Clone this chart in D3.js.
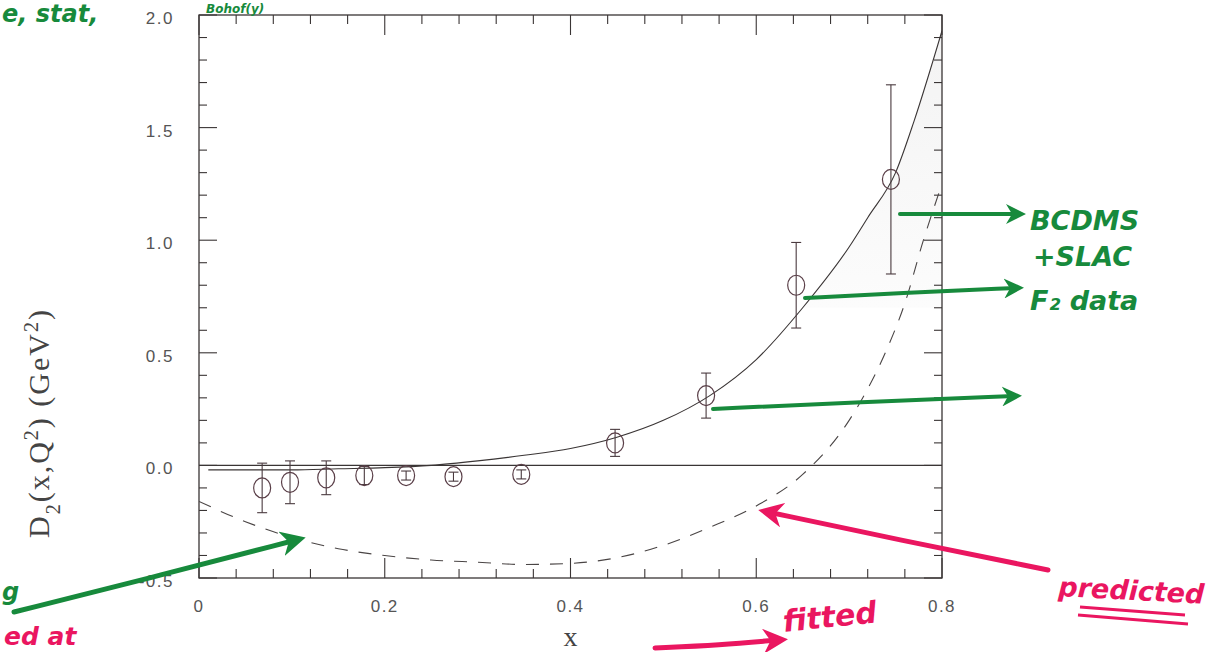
<!DOCTYPE html>
<html>
<head>
<meta charset="utf-8">
<script src="https://cdn.jsdelivr.net/npm/d3@7"></script>
<style>
  body { margin: 0; background: #fff; }
  svg { display: block; }
  .tick-label { font-family: "Liberation Sans", Arial, sans-serif; font-size: 17px; fill: #555; letter-spacing: 1.5px; }
  .hand { font-family: "DejaVu Sans", sans-serif; font-style: italic; font-weight: bold; }
</style>
</head>
<body>
<div id="container"></div>
<script>
// data points (x, D2, error)
var dataX   = [0.068, 0.098, 0.137, 0.178, 0.223, 0.274, 0.347, 0.448, 0.546, 0.643, 0.745];
var dataY   = [-0.10, -0.075, -0.055, -0.045, -0.045, -0.05, -0.04, 0.10, 0.31, 0.80, 1.27];
var dataErr = [0.11, 0.095, 0.075, 0.04, 0.02, 0.02, 0.02, 0.06, 0.10, 0.19, 0.42];

// fitted curve (solid)
var fitX = [0.01, 0.05, 0.10, 0.15, 0.20, 0.25, 0.30, 0.35, 0.40, 0.45, 0.50, 0.55, 0.60, 0.65, 0.70, 0.72, 0.75, 0.77, 0.80];
var fitY = [-0.02, -0.02, -0.02, -0.015, -0.01, 0.0, 0.02, 0.045, 0.075, 0.125, 0.20, 0.31, 0.47, 0.70, 0.97, 1.10, 1.30, 1.53, 1.93];

// predicted curve (dashed)
var predX = [0.0, 0.05, 0.10, 0.15, 0.20, 0.25, 0.30, 0.35, 0.40, 0.45, 0.50, 0.55, 0.60, 0.65, 0.70, 0.72, 0.74, 0.76, 0.78, 0.80];
var predY = [-0.16, -0.25, -0.32, -0.37, -0.40, -0.42, -0.43, -0.44, -0.435, -0.41, -0.355, -0.275, -0.18, -0.04, 0.2, 0.34, 0.51, 0.72, 1.0, 1.25];

var xTicks = [0, 0.2, 0.4, 0.6, 0.8];
var xTickLabels = ["0", "0.2", "0.4", "0.6", "0.8"];
var yTicks = [-0.5, 0.0, 0.5, 1.0, 1.5, 2.0];
var yTickLabels = ["-0.5", "0.0", "0.5", "1.0", "1.5", "2.0"];

var W = 1219, H = 652;
var margin = {top: 15, right: 277, bottom: 74, left: 199};

var svg = d3.select("#container").append("svg")
    .attr("width", W)
    .attr("height", H)
    .style("background", "#fff");

var x = d3.scaleLinear().domain([0, 0.8]).range([margin.left, W - margin.right]);
var y = d3.scaleLinear().domain([-0.5, 2.0]).range([H - margin.bottom, margin.top]);

var ink = "#3a3535";

// very faint shading right of the fitted curve at large x
var grad = svg.append("defs").append("linearGradient").attr("id", "shade")
    .attr("x1", 0).attr("x2", 0).attr("y1", 0).attr("y2", 1);
grad.append("stop").attr("offset", "0%").attr("stop-color", "#f3f3f3");
grad.append("stop").attr("offset", "100%").attr("stop-color", "#fcfcfc");
var shadePts = fitX.map(function(v, i) { return [v, fitY[i]]; })
    .filter(function(p) { return p[0] >= 0.65; });
shadePts.push([0.8, 0.7]);
svg.append("path")
    .attr("d", d3.line().x(function(d) { return x(d[0]); }).y(function(d) { return y(d[1]); })
        .curve(d3.curveLinearClosed)(shadePts))
    .attr("fill", "url(#shade)");

// frame
svg.append("rect")
    .attr("x", x(0)).attr("y", y(2.0))
    .attr("width", x(0.8) - x(0)).attr("height", y(-0.5) - y(2.0))
    .attr("fill", "none").attr("stroke", ink).attr("stroke-width", 1.3);

// ticks on all four sides
var xMinor = d3.range(0, 0.8001, 0.04);
var yMinor = d3.range(-0.5, 2.0001, 0.1);
function isMajorX(v) { return Math.abs(v * 5 - Math.round(v * 5)) < 1e-6; }
function isMajorY(v) { return Math.abs(v * 2 - Math.round(v * 2)) < 1e-6; }

var tickG = svg.append("g").attr("stroke", ink).attr("stroke-width", 1.1);
xMinor.forEach(function(v) {
    var len = isMajorX(v) ? 20 : 9;
    tickG.append("line").attr("x1", x(v)).attr("x2", x(v)).attr("y1", y(-0.5)).attr("y2", y(-0.5) - len);
    tickG.append("line").attr("x1", x(v)).attr("x2", x(v)).attr("y1", y(2.0)).attr("y2", y(2.0) + len);
});
yMinor.forEach(function(v) {
    var len = isMajorY(v) ? 18 : 8;
    tickG.append("line").attr("x1", x(0)).attr("x2", x(0) + len).attr("y1", y(v)).attr("y2", y(v));
    tickG.append("line").attr("x1", x(0.8)).attr("x2", x(0.8) - len).attr("y1", y(v)).attr("y2", y(v));
});

// tick labels
svg.append("g").selectAll("text").data(xTicks).enter().append("text")
    .attr("class", "tick-label")
    .attr("x", function(d) { return x(d); })
    .attr("y", y(-0.5) + 34)
    .attr("text-anchor", "middle")
    .text(function(d, i) { return xTickLabels[i]; });
svg.append("g").selectAll("text").data(yTicks).enter().append("text")
    .attr("class", "tick-label")
    .attr("x", x(0) - 25)
    .attr("y", function(d) { return y(d) + 9; })
    .attr("text-anchor", "end")
    .text(function(d, i) { return yTickLabels[i]; });

// axis titles
svg.append("text")
    .attr("x", x(0.4)).attr("y", 646)
    .attr("text-anchor", "middle")
    .style("font-family", "'Liberation Serif', 'DejaVu Serif', serif")
    .style("font-size", "28px").style("fill", "#444")
    .text("x");
var yl = svg.append("text")
    .attr("transform", "translate(49," + 423 + ") rotate(-90)")
    .attr("text-anchor", "middle")
    .style("font-family", "'Liberation Serif', 'DejaVu Serif', serif")
    .style("font-size", "30px").style("fill", "#444")
    .style("letter-spacing", "2px");
yl.append("tspan").text("D");
yl.append("tspan").attr("baseline-shift", "sub").style("font-size", "20px").text("2");
yl.append("tspan").text("(x,Q");
yl.append("tspan").attr("baseline-shift", "super").style("font-size", "20px").text("2");
yl.append("tspan").text(")  (GeV");
yl.append("tspan").attr("baseline-shift", "super").style("font-size", "20px").text("2");
yl.append("tspan").text(")");

// zero line
svg.append("line")
    .attr("x1", x(0)).attr("x2", x(0.8)).attr("y1", y(0)).attr("y2", y(0))
    .attr("stroke", ink).attr("stroke-width", 1.1);

svg.append("clipPath").attr("id", "plotclip").append("rect")
    .attr("x", x(0)).attr("y", y(2.0)).attr("width", x(0.8) - x(0)).attr("height", y(-0.5) - y(2.0));

var line = d3.line()
    .x(function(d) { return x(d[0]); })
    .y(function(d) { return y(d[1]); })
    .curve(d3.curveMonotoneX);

svg.append("path")
    .attr("clip-path", "url(#plotclip)")
    .attr("d", line(fitX.map(function(v, i) { return [v, fitY[i]]; })))
    .attr("fill", "none").attr("stroke", ink).attr("stroke-width", 1.1);

svg.append("path")
    .attr("clip-path", "url(#plotclip)")
    .attr("d", line(predX.map(function(v, i) { return [v, predY[i]]; })))
    .attr("fill", "none").attr("stroke", "#4a4545").attr("stroke-width", 1.1)
    .attr("stroke-dasharray", "13,11");

// data points with error bars
var pts = svg.append("g").selectAll("g").data(dataX).enter().append("g");
pts.append("line")
    .attr("x1", function(d) { return x(d); }).attr("x2", function(d) { return x(d); })
    .attr("y1", function(d, i) { return y(dataY[i] + dataErr[i]); })
    .attr("y2", function(d, i) { return y(dataY[i] - dataErr[i]); })
    .attr("stroke", "#4a3a3f").attr("stroke-width", 1.1);
[1, -1].forEach(function(s) {
    pts.append("line")
        .attr("x1", function(d) { return x(d) - 5; }).attr("x2", function(d) { return x(d) + 5; })
        .attr("y1", function(d, i) { return y(dataY[i] + s * dataErr[i]); })
        .attr("y2", function(d, i) { return y(dataY[i] + s * dataErr[i]); })
        .attr("stroke", "#4a3a3f").attr("stroke-width", 1.1);
});
pts.append("ellipse")
    .attr("cx", function(d) { return x(d); })
    .attr("cy", function(d, i) { return y(dataY[i]); })
    .attr("rx", 8.5).attr("ry", 10)
    .attr("fill", "none").attr("stroke", "#5a3f48").attr("stroke-width", 1.2);

// handwritten annotations
var green = "#178a3c", red = "#ea1660";
var defs = svg.append("defs");
function head(id, col) {
    defs.append("marker").attr("id", id)
        .attr("viewBox", "0 0 10 10").attr("refX", 6).attr("refY", 5)
        .attr("markerWidth", 5).attr("markerHeight", 5).attr("orient", "auto")
        .append("path").attr("d", "M0,0 L10,5 L0,10 L3,5 z").attr("fill", col);
}
head("gh", green);
head("rh", red);

function arrow(pts, col, mk, w) {
    svg.append("path")
        .attr("d", d3.line().curve(d3.curveBasis)(pts))
        .attr("fill", "none").attr("stroke", col).attr("stroke-width", w || 4)
        .attr("stroke-linecap", "round")
        .attr("marker-end", "url(#" + mk + ")");
}
arrow([[900, 214], [960, 214], [1018, 214]], green, "gh");
arrow([[805, 298], [900, 293], [1016, 288]], green, "gh");
arrow([[713, 409], [860, 402], [1014, 396]], green, "gh");
arrow([[14, 612], [150, 578], [296, 540]], green, "gh", 5);
arrow([[1048, 570], [900, 540], [768, 512]], red, "rh", 5);
arrow([[655, 648], [720, 645], [778, 640]], red, "rh", 5);

function hand(txt, px, py, col, size, rot) {
    return svg.append("text")
        .attr("class", "hand")
        .attr("transform", "translate(" + px + "," + py + ") rotate(" + (rot || 0) + ")")
        .style("font-size", size + "px").style("fill", col)
        .text(txt);
}
hand("BCDMS", 1030, 230, green, 27, 0);
hand("+SLAC", 1033, 266, green, 27, 0);
hand("F\u2082 data", 1030, 310, green, 27, 0);
hand("predicted", 1058, 596, red, 27, 3);
svg.append("path").attr("d", "M1080,607 L1185,615 M1078,615 L1188,624")
    .attr("stroke", red).attr("stroke-width", 3).attr("fill", "none");
hand("fitted", 784, 632, red, 30, -6);
hand("ed at", 4, 645, red, 25, 0);
hand("g", 2, 600, green, 24, 0);
hand("e, stat,", 2, 22, green, 24, 0);
hand("Bohof(y)", 206, 13, green, 12, 0);
</script>
</body>
</html>
